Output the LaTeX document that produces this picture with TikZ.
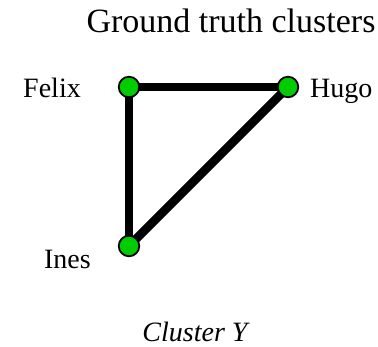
\documentclass[tikz,border=0pt]{standalone}
\usepackage{fontspec}
\setmainfont{Liberation Serif}

\tikzset{
    person/.style={circle,draw=black,line width=1.8pt,fill=green!80!black,minimum size=20.5pt,inner sep=0pt},
    tie/.style={line width=8.5pt},
    who/.style={inner sep=0pt,font=\fontsize{28}{30}\selectfont}
}

\begin{document}
\begin{tikzpicture}[x=1pt,y=-1pt]
    \useasboundingbox (0,0) rectangle (378,347);
    \node[inner sep=0pt,anchor=base,font=\fontsize{34}{38}\selectfont] (title) at (231,33) {Ground truth clusters};
    % the three members
    \draw[tie] (129,87) coordinate (f) -- (288,87) coordinate (h);
    \draw[tie] (f) -- (129,246) coordinate (i);
    \draw[tie] (i) -- (h);
    \node[person] (felix) at (f) {};
    \node[person] (hugo) at (h) {};
    \node[person] (ines) at (i) {};
    \node[who,anchor=base east] (felixname) at (81,98) {Felix};
    \node[who,anchor=base west] (hugoname) at (310,98) {Hugo};
    \node[who,anchor=base east] (inesname) at (91,269) {Ines};
    \node[who,anchor=base,font=\fontsize{28}{30}\selectfont\itshape] (name) at (195,342) {Cluster Y};
\end{tikzpicture}
\end{document}
